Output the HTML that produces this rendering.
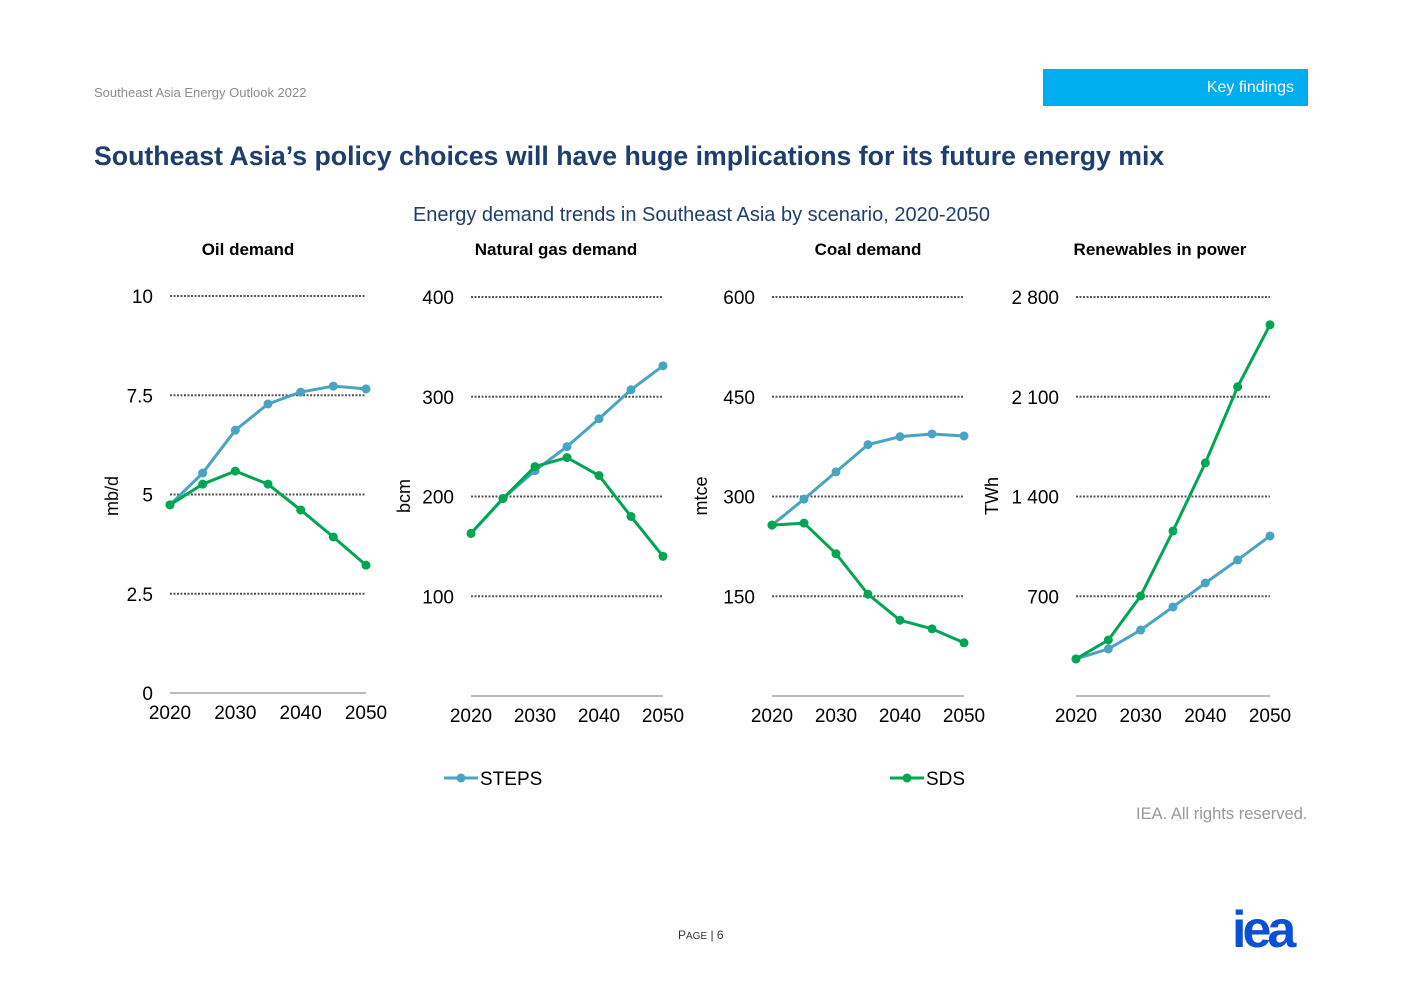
<!DOCTYPE html>
<html><head><meta charset="utf-8">
<style>
body{margin:0;background:#fff;font-family:"Liberation Sans",Arial,sans-serif;}
#wrap{position:relative;width:1403px;height:992px;overflow:hidden;}
.abs{position:absolute;}
</style></head>
<body>
<div id="wrap">
<div class="abs" style="left:94px;top:85px;font-size:13px;color:#8c8c8c;">Southeast Asia Energy Outlook 2022</div>
<div class="abs" style="left:1043px;top:69px;width:265px;height:37px;background:#00aeef;color:#fff;font-size:16px;line-height:37px;text-align:right;box-sizing:border-box;padding-right:14px;">Key findings</div>
<div class="abs" style="left:94px;top:141px;font-size:26.7px;font-weight:bold;color:#1f3e6e;white-space:nowrap;">Southeast Asia’s policy choices will have huge implications for its future energy mix</div>
<div class="abs" style="left:0;width:1403px;top:204px;text-align:center;font-size:20px;color:#1f3e6e;">Energy demand trends in Southeast Asia by scenario, 2020-2050</div>
<svg class="abs" style="left:0;top:0" width="1403" height="992" id="chart"></svg>
<div class="abs" style="left:1136px;top:805px;font-size:16.5px;color:#999;">IEA. All rights reserved.</div>
<div class="abs" style="left:678px;top:928px;font-size:12px;color:#333;">P<span style="font-size:10px">AGE</span> | 6</div>
<div class="abs" style="left:1232px;top:900px;font-size:52px;font-weight:bold;color:#0a4fd6;letter-spacing:-4px;font-family:'Liberation Sans',sans-serif;">iea</div>
</div>
<script>
const years=[2020,2025,2030,2035,2040,2045,2050];
const oilSteps=[4.74,5.54,6.62,7.28,7.58,7.73,7.66];
const oilSds=[4.74,5.26,5.59,5.26,4.61,3.93,3.22];
const gasSteps=[163,198,226,250,278,307,331];
const gasSds=[163,198,230,239,221,180,140];
const coalSteps=[257,296,337,378,390,394,391];
const coalSds=[257,260,214,153,114,101,80];
const renSteps=[260,330,463,625,793,955,1123];
const renSds=[260,393,702,1158,1636,2170,2605];
const xTicks=[2020,2030,2040,2050];
const panelTitles=["Oil demand","Natural gas demand","Coal demand","Renewables in power"];
const units=["mb/d","bcm","mtce","TWh"];
const oilTicks=[0,2.5,5,7.5,10],oilLabels=["0","2.5","5","7.5","10"];
const gasTicks=[100,200,300,400],gasLabels=["100","200","300","400"];
const coalTicks=[150,300,450,600],coalLabels=["150","300","450","600"];
const renTicks=[700,1400,2100,2800],renLabels=["700","1 400","2 100","2 800"];
const panels=[
 {x0:170,x1:366,yTop:296,yBot:693,max:10,steps:oilSteps,sds:oilSds,ticks:oilTicks,labels:oilLabels,titleX:248,unitX:118},
 {x0:471,x1:663,yTop:297,yBot:696,max:400,steps:gasSteps,sds:gasSds,ticks:gasTicks,labels:gasLabels,titleX:556,unitX:410},
 {x0:772,x1:964,yTop:297,yBot:696,max:600,steps:coalSteps,sds:coalSds,ticks:coalTicks,labels:coalLabels,titleX:868,unitX:707},
 {x0:1076,x1:1270,yTop:297,yBot:696,max:2800,steps:renSteps,sds:renSds,ticks:renTicks,labels:renLabels,titleX:1160,unitX:998}
];
const svg=document.getElementById('chart');
const NS='http://www.w3.org/2000/svg';
function mk(t,a,parent){const e=document.createElementNS(NS,t);for(const k in a)e.setAttribute(k,a[k]);(parent||svg).appendChild(e);return e;}
const STEPS='#4ba3c3',SDS='#00a651';
panels.forEach((p,i)=>{
 const g=mk('g',{});
 
 
 const xs=y=>p.x0+(y-2020)/30*(p.x1-p.x0);
 const ys=v=>p.yBot-v/p.max*(p.yBot-p.yTop);
 const t=mk('text',{x:p.titleX,y:255,'text-anchor':'middle','font-size':17,'font-weight':'bold',fill:'#000'},g);t.textContent=panelTitles[i];
 
 const u=mk('text',{x:p.unitX,y:496,'text-anchor':'middle','font-size':18,fill:'#000',transform:`rotate(-90 ${p.unitX} 496)`},g);u.textContent=units[i];
 
 p.ticks.forEach((v,j)=>{
  const y=ys(v);
  if(v>0){const l=mk('line',{x1:p.x0,x2:p.x1,y1:y,y2:y,stroke:'#555','stroke-width':2,'stroke-dasharray':'2 1.5'},g);
   }
  const tx=mk('text',{x:p.x0-17,y:y+7,'text-anchor':'end','font-size':19,fill:'#000'},g);tx.textContent=p.labels[j];
  
 });
 const ax=mk('line',{x1:p.x0,x2:p.x1,y1:p.yBot,y2:p.yBot,stroke:'#777','stroke-width':1},g);
 
 xTicks.forEach(yr=>{const tx=mk('text',{x:xs(yr),y:p.yBot+26,'text-anchor':'middle','font-size':19,fill:'#000'},g);tx.textContent=yr;
  });
 [[p.steps,STEPS,'steps'],[p.sds,SDS,'sds']].forEach(([arr,c,n])=>{
  const pl=mk('polyline',{points:arr.map((v,k)=>xs(years[k])+','+ys(v)).join(' '),fill:'none',stroke:c,'stroke-width':3,'stroke-linejoin':'round'},g);
  
  arr.forEach((v,k)=>{const ci=mk('circle',{cx:xs(years[k]),cy:ys(v),r:4.5,fill:c},g);
   });
 });
});
[[444,'STEPS',STEPS,'legend-steps'],[890,'SDS',SDS,'legend-sds']].forEach(([x,lab,c,n])=>{
 const g=mk('g',{});
 
 mk('line',{x1:x,x2:x+34,y1:778,y2:778,stroke:c,'stroke-width':3},g);
 mk('circle',{cx:x+17,cy:778,r:4.5,fill:c},g);
 const t=mk('text',{x:x+36,y:785,'font-size':19,fill:'#000'},g);t.textContent=lab;
});
</script>
</body></html>
